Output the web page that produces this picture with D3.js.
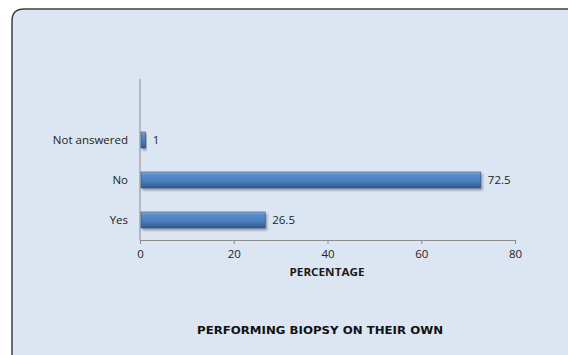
<!DOCTYPE html>
<html><head><meta charset="utf-8">
<script src="https://cdn.jsdelivr.net/npm/d3@7"></script>
<style>html,body{margin:0;padding:0;background:#fff;}svg{display:block;}</style>
</head><body>
<svg id="c" width="568" height="355"></svg>
<script>
const categories = ["Yes", "No", "Not answered"];
const values = [26.5, 72.5, 1];
const xTicks = [0, 20, 40, 60, 80];
const xTitle = "PERCENTAGE";
const chartTitle = "PERFORMING BIOPSY ON THEIR OWN";

const FONT = "'Open Sans', 'Liberation Sans', sans-serif";
const svg = d3.select("#c");
const defs = svg.append("defs");
const g = defs.append("linearGradient").attr("id","barGrad").attr("x1",0).attr("y1",0).attr("x2",0).attr("y2",1);
g.append("stop").attr("offset","0%").attr("stop-color","#8eb2dd");
g.append("stop").attr("offset","18%").attr("stop-color","#5a8ccb");
g.append("stop").attr("offset","60%").attr("stop-color","#4a7cbb");
g.append("stop").attr("offset","100%").attr("stop-color","#2f5a8f");
const f = defs.append("filter").attr("id","sh").attr("x","-10%").attr("y","-30%").attr("width","130%").attr("height","180%");
f.append("feDropShadow").attr("dx",1.5).attr("dy",2).attr("stdDeviation",1.2).attr("flood-color","#000").attr("flood-opacity",0.35);

// background panel
svg.append("path")
  .attr("d","M12,600 L12,21 Q12,9 24,9 L700,9 L700,600 Z")
  .attr("fill","#dce6f2").attr("stroke","#3f3f3f").attr("stroke-width",1.5);

const x = d3.scaleLinear().domain([0,80]).range([140,515]);
const y = d3.scaleBand().domain(categories).range([240,120]).paddingInner(0.6).paddingOuter(0.3);

// axes
const xAxis = svg.append("g").attr("transform","translate(0,240)")
  .call(d3.axisBottom(x).tickValues(xTicks).tickSize(4).tickPadding(6).tickSizeOuter(0));
xAxis.select(".domain").attr("stroke","#8c8c8c");
xAxis.selectAll(".tick line").attr("stroke","#8c8c8c");
xAxis.selectAll("text").attr("font-family",FONT).attr("font-size",11.5).attr("fill","#222");

svg.append("line").attr("x1",140).attr("x2",140).attr("y1",79).attr("y2",240).attr("stroke","#8c8c8c");

const yAxis = svg.append("g").attr("transform","translate(140,0)")
  .call(d3.axisLeft(y).tickSize(0).tickPadding(12));
yAxis.select(".domain").remove();
yAxis.selectAll("text").attr("font-family",FONT).attr("font-size",11.5).attr("fill","#222");

// bars
svg.append("g").selectAll("rect").data(values).join("rect")
  .attr("x", x(0)+1)
  .attr("y",(d,i)=>y(categories[i]))
  .attr("width",d=>x(d)-x(0))
  .attr("height",y.bandwidth())
  .attr("fill","url(#barGrad)")
  .attr("stroke","#2c4f7c").attr("stroke-width",0.6)
  .attr("filter","url(#sh)");

// value labels
svg.append("g").selectAll("text").data(values).join("text")
  .attr("x",d=>x(d)+8)
  .attr("y",(d,i)=>y(categories[i])+y.bandwidth()/2)
  .attr("dy","0.35em")
  .attr("font-family",FONT).attr("font-size",11.5).attr("fill","#222")
  .text(d=>d);

svg.append("text").attr("x",327).attr("y",276).attr("text-anchor","middle")
  .attr("font-family",FONT).attr("font-weight","bold").attr("font-size",10.5).attr("fill","#1a1a1a")
  .attr("textLength",75).attr("lengthAdjust","spacingAndGlyphs")
  .text(xTitle);

svg.append("text").attr("x",320).attr("y",334).attr("text-anchor","middle")
  .attr("font-family","'DejaVu Sans', sans-serif").attr("font-weight","bold").attr("font-size",11).attr("fill","#111")
  .attr("textLength",246).attr("lengthAdjust","spacingAndGlyphs")
  .text(chartTitle);
</script>
</body></html>
